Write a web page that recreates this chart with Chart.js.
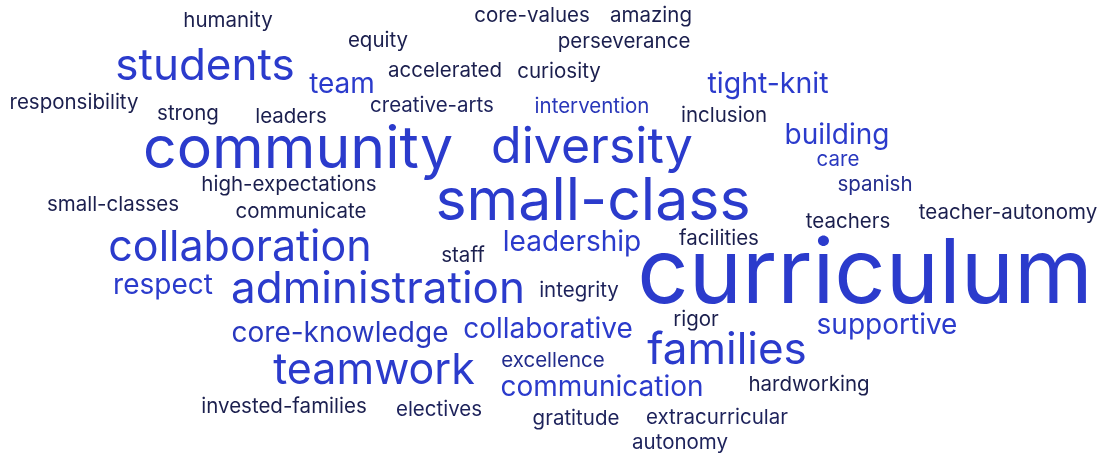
<!DOCTYPE html>
<html>
<head>
<meta charset="utf-8">
<script src="https://cdn.jsdelivr.net/npm/chart.js@4"></script>
<style>
  html, body { margin: 0; padding: 0; background: #ffffff; }
  #wrap { width: 1104px; height: 457px; }
</style>
</head>
<body>
<div id="wrap"><canvas id="nuvem" width="1104" height="457"></canvas></div>
<script>
// palavras e pesos (tamanho relativo)
var _palavras = [
    "humanity", "core-values", "amazing", "equity", "perseverance",
    "students", "team", "accelerated", "curiosity", "tight-knit",
    "responsibility", "creative-arts", "intervention", "inclusion", "strong",
    "leaders", "community", "diversity", "building", "care",
    "high-expectations", "spanish", "small-classes", "communicate", "small-class",
    "teachers", "teacher-autonomy", "collaboration", "leadership", "facilities",
    "staff", "curriculum", "respect", "administration", "integrity",
    "rigor", "supportive", "core-knowledge", "collaborative", "families",
    "teamwork", "excellence", "communication", "hardworking", "invested-families",
    "electives", "gratitude", "extracurricular", "autonomy"
];
var _pesos = [
    20.5, 20.5, 20.5, 20.5, 20.5,
    44, 28, 20.5, 20.5, 28.5,
    20.5, 20.5, 20.5, 20.5, 20.5,
    20.5, 59, 50, 28, 20.5,
    20.5, 20.5, 20.5, 20.5, 59,
    20.5, 20.5, 43, 28, 20.5,
    20.5, 90, 28, 44, 20.5,
    20.5, 28, 28, 28, 44,
    43, 20.5, 28, 20.5, 20.5,
    20.5, 20.5, 20.5, 20.5
];
// posição de cada palavra no plano (centro horizontal, linha de base)
var _posX = [
    228, 532, 651, 378, 624,
    205, 342, 445, 559, 768,
    74, 432, 592, 724, 188,
    291, 298, 592, 837, 838,
    289, 875, 113, 301, 593,
    848, 1008, 240, 572, 719,
    463, 865, 163, 378, 579,
    696, 887, 340, 548, 727,
    374, 553, 602, 809, 284,
    439, 576, 717, 680
];
var _posY = [
    27, 22, 22, 47, 48,
    80, 93, 77, 78, 93,
    109, 112, 113, 122, 120,
    123, 168, 163, 144, 166,
    191, 191, 211, 218, 220,
    228, 219, 261, 251, 245,
    262, 303, 294, 303, 297,
    326, 334, 342, 338, 364,
    384, 367, 396, 391, 413,
    416, 425, 424, 449
];

// tom de cada palavra: 0 = azul escuro, 1 = azul vivo
var _tons = [
    0, 0, 0, 0, 0,
    1, 1, 0, 0, 1,
    0, 0.1, 0.85, 0, 0,
    0, 1, 1, 1, 0.9,
    0, 0.5, 0, 0, 1,
    0, 0, 1, 1, 0,
    0, 1, 1, 1, 0.1,
    0, 1, 0.9, 1, 1,
    1, 0.5, 1, 0, 0,
    0.1, 0.1, 0.1, 0.1
];

function misturaCor(t) {
    var a = [27, 31, 78];
    var b = [43, 59, 204];
    var r = Math.round(a[0] + (b[0] - a[0]) * t);
    var g = Math.round(a[1] + (b[1] - a[1]) * t);
    var bl = Math.round(a[2] + (b[2] - a[2]) * t);
    return "rgb(" + r + "," + g + "," + bl + ")";
}

var _pontos = new Array();
_palavras.forEach(function (p, i) {
    _pontos.push({ x: _posX[i], y: _posY[i] });
});

var desenhaPalavras = {
    id: "desenhaPalavras",
    afterDatasetsDraw: function (chart) {
        var ctx = chart.ctx;
        var meta = chart.getDatasetMeta(0);
        ctx.save();
        ctx.textAlign = "center";
        ctx.textBaseline = "alphabetic";
        meta.data.forEach(function (ponto, i) {
            ctx.font = _pesos[i] + "px Inter";
            ctx.fillStyle = misturaCor(_tons[i]);
            ctx.fillText(_palavras[i], ponto.x, ponto.y);
        });
        ctx.restore();
    }
};

new Chart(document.getElementById("nuvem"), {
    type: "scatter",
    data: {
        datasets: [{
            label: "palavras",
            data: _pontos,
            pointRadius: 0,
            pointHoverRadius: 0
        }]
    },
    options: {
        responsive: false,
        animation: false,
        layout: { padding: 0 },
        plugins: {
            legend: { display: false },
            tooltip: { enabled: false }
        },
        scales: {
            x: { type: "linear", min: 0, max: 1104, display: false },
            y: { type: "linear", min: 0, max: 457, reverse: true, display: false }
        }
    },
    plugins: [desenhaPalavras]
});
</script>
</body>
</html>
